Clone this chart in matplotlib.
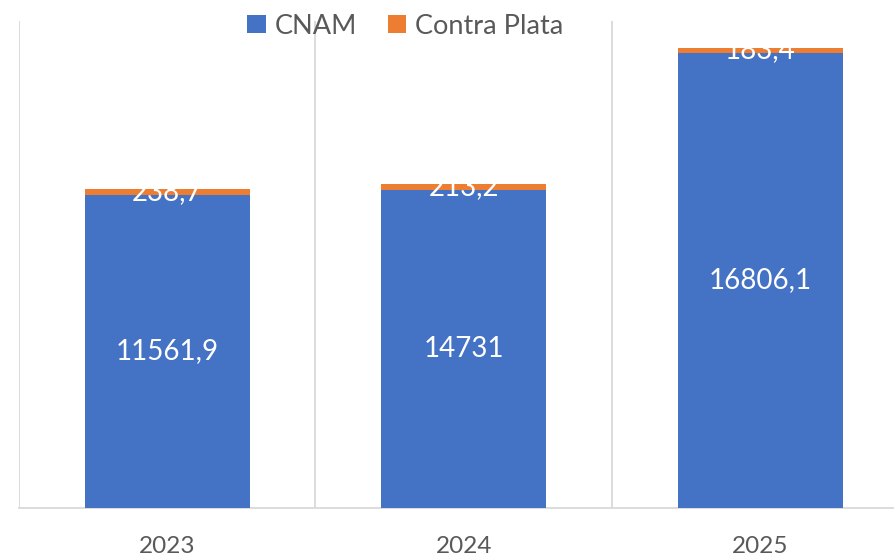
import numpy as np
import matplotlib
matplotlib.use('Agg')
import matplotlib.pyplot as plt

plt.rcParams['font.family'] = ['Lato', 'DejaVu Sans']

years = ['2023', '2024', '2025']
cnam = [11561.9, 11760, 16806.1]
contra_plata = [238.7, 213.2, 183.4]
cnam_labels = ['11561,9', '14731', '16806,1']
contra_labels = ['238,7', '213,2', '183,4']

blue = '#4472C4'
orange = '#ED7D31'
grid_col = '#D9D9D9'
text_col = '#595959'

fig = plt.figure(figsize=(8.95, 5.59), dpi=100)
ax = fig.add_axes([19 / 895, 51 / 559, 889.5 / 895, 487.3 / 559])

x = np.arange(len(years))
width = 0.558
b1 = ax.bar(x, cnam, width, color=blue, label='CNAM', zorder=3)
b2 = ax.bar(x, contra_plata, width, bottom=cnam, color=orange,
            label='Contra Plata', zorder=3)

for i in range(len(years)):
    ax.text(x[i], cnam[i] / 2, cnam_labels[i], ha='center', va='center',
            color='white', fontsize=20, zorder=4)
    ax.text(x[i], cnam[i] + contra_plata[i] / 2, contra_labels[i],
            ha='center', va='center', color='white', fontsize=20, zorder=4)

ax.set_xlim(-0.5, len(years) - 0.5)
ax.set_ylim(0, 18000)

# vertical category separators
for xv in np.arange(-0.5, len(years), 1.0):
    ax.axvline(xv, color=grid_col, linewidth=1.3, zorder=1)

for s in ['top', 'right', 'left']:
    ax.spines[s].set_visible(False)
ax.spines['bottom'].set_color(grid_col)
ax.spines['bottom'].set_linewidth(1.3)

ax.set_yticks([])
ax.set_xticks(x)
ax.set_xticklabels(years, fontsize=17.5, color=text_col)
ax.tick_params(axis='x', length=0, pad=20)

fig.legend(handles=[b1, b2], loc='center', bbox_to_anchor=(0.453, 0.953),
           ncol=2, frameon=False, fontsize=19.5, labelcolor=text_col,
           handlelength=0.67, handleheight=0.67, handletextpad=0.33,
           columnspacing=1.15)

fig.savefig('out.png', dpi=100)
